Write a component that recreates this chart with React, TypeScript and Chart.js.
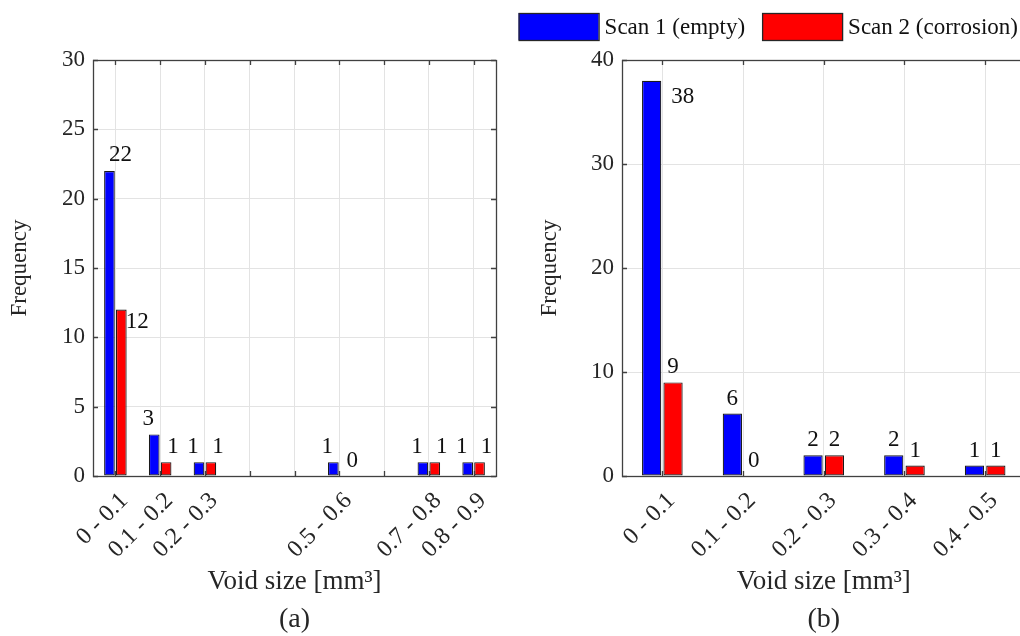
import React, { useEffect, useRef } from 'react';
import { Chart, registerables } from 'chart.js';

Chart.register(...registerables);

const FONT = '"Liberation Serif", "Times New Roman", serif';
const TEXT = '#262626';
const BLUE = '#0000ff';
const RED = '#ff0000';
const GRID = '#e3e3e3';
const AXIS = '#404040';

// ---- Panel (a) ----
const categoriesA = ['0 - 0.1', '0.1 - 0.2', '0.2 - 0.3', '0.3 - 0.4', '0.4 - 0.5', '0.5 - 0.6', '0.6 - 0.7', '0.7 - 0.8', '0.8 - 0.9'];
const tickShownA = [true, true, true, false, false, true, false, true, true];
const scan1A = [22, 3, 1, 0, 0, 1, 0, 1, 1];
const scan2A = [12, 1, 1, 0, 0, 0, 0, 1, 1];
const yTicksA = [0, 5, 10, 15, 20, 25, 30];

// ---- Panel (b) ----
const categoriesB = ['0 - 0.1', '0.1 - 0.2', '0.2 - 0.3', '0.3 - 0.4', '0.4 - 0.5'];
const tickShownB = [true, true, true, true, true];
const scan1B = [38, 6, 2, 2, 1];
const scan2B = [9, 0, 2, 1, 1];
const yTicksB = [0, 10, 20, 30, 40];

const seriesNames = ['Scan 1 (empty)', 'Scan 2 (corrosion)'];
const xTitle = 'Void size [mm³]';
const yTitle = 'Frequency';
const panelA = '(a)';
const panelB = '(b)';

// label nudges (px, relative to bar top centre): default per dataset + special cases "index:dataset"
const nudgeA = { def: [[-6, -15], [7, -15]], special: { '0:0': [11, -16], '0:1': [16, 12] } as Record<string, number[]> };
const nudgeB = { def: [[0, -15], [0, -15]], special: { '0:0': [31, 16] } as Record<string, number[]> };

const framePlugin = {
  id: 'frameTicks',
  afterDatasetsDraw(chart: any) {
    const { ctx, chartArea } = chart;
    const { left, top, right, bottom } = chartArea;
    const xs = chart.scales.x;
    const ys = chart.scales.y;
    ctx.save();
    ctx.strokeStyle = AXIS;
    ctx.lineWidth = 1.3;
    ctx.beginPath();
    xs.ticks.forEach((_t: any, i: number) => {
      const px = Math.round(xs.getPixelForTick(i)) + 0.5;
      ctx.moveTo(px, bottom); ctx.lineTo(px, bottom - 5);
      ctx.moveTo(px, top); ctx.lineTo(px, top + 5);
    });
    ys.ticks.forEach((_t: any, i: number) => {
      const py = Math.round(ys.getPixelForTick(i)) + 0.5;
      ctx.moveTo(left, py); ctx.lineTo(left + 5, py);
      ctx.moveTo(right, py); ctx.lineTo(right - 5, py);
    });
    ctx.stroke();
    ctx.strokeRect(Math.round(left) + 0.5, Math.round(top) + 0.5, Math.round(right - left), Math.round(bottom - top));
    ctx.restore();
  },
};

const barLabelPlugin = {
  id: 'barLabels',
  afterDatasetsDraw(chart: any, _args: any, opts: any) {
    const { ctx } = chart;
    ctx.save();
    ctx.font = `23px ${FONT}`;
    ctx.fillStyle = '#111';
    ctx.textAlign = 'center';
    ctx.textBaseline = 'middle';
    chart.data.datasets.forEach((ds: any, d: number) => {
      const meta = chart.getDatasetMeta(d);
      meta.data.forEach((bar: any, i: number) => {
        if (!opts.shown[i]) return;
        const n = opts.nudge.special[`${i}:${d}`] || opts.nudge.def[d];
        ctx.fillText(String(ds.data[i]), bar.x + n[0], bar.y + n[1]);
      });
    });
    ctx.restore();
  },
};

const boxLegendPlugin = {
  id: 'boxLegend',
  afterDraw(chart: any, _args: any, opts: any) {
    if (!opts || !opts.enabled) return;
    const { ctx } = chart;
    ctx.save();
    ctx.font = `23px ${FONT}`;
    ctx.textBaseline = 'middle';
    ctx.textAlign = 'left';
    const items = chart.data.datasets.map((ds: any) => ({ text: ds.label, color: ds.backgroundColor, w: ctx.measureText(ds.label).width }));
    const total = items.reduce((s: number, it: any) => s + opts.boxW + opts.gap + it.w, 0) + opts.spacing * (items.length - 1);
    let x = opts.right - total;
    items.forEach((it: any) => {
      ctx.fillStyle = it.color;
      ctx.fillRect(x, opts.top, opts.boxW, opts.boxH);
      ctx.strokeStyle = '#262626';
      ctx.lineWidth = 1.3;
      ctx.strokeRect(x + 0.5, opts.top + 0.5, opts.boxW, opts.boxH);
      ctx.fillStyle = '#111';
      ctx.fillText(it.text, x + opts.boxW + opts.gap, opts.top + opts.boxH / 2 + 1);
      x += opts.boxW + opts.gap + it.w + opts.spacing;
    });
    ctx.restore();
  },
};

function makeConfig(p: {
  categories: string[]; tickShown: boolean[]; s1: number[]; s2: number[]; yTicks: number[];
  panel: string; yWidth: number; yTitlePad: number; padRight: number; nudge: any; legend: boolean;
}): any {
  const yMax = p.yTicks[p.yTicks.length - 1];
  const step = p.yTicks[1] - p.yTicks[0];
  return {
    type: 'bar',
    data: {
      labels: p.categories,
      datasets: [
        { label: seriesNames[0], data: p.s1, backgroundColor: BLUE, borderColor: '#1a1a1a', borderWidth: 1.2, borderSkipped: false, categoryPercentage: 0.53, barPercentage: 0.9 },
        { label: seriesNames[1], data: p.s2, backgroundColor: RED, borderColor: '#1a1a1a', borderWidth: 1.2, borderSkipped: false, categoryPercentage: 0.53, barPercentage: 0.9 },
      ],
    },
    options: {
      animation: false,
      responsive: false,
      devicePixelRatio: 1,
      layout: { padding: { left: 0, right: p.padRight, top: 60, bottom: 0 } },
      plugins: {
        legend: { display: false },
        tooltip: { enabled: false },
        title: {
          display: true, text: p.panel, position: 'bottom', fullSize: false,
          color: TEXT, font: { family: FONT, size: 28, weight: 'normal' }, padding: { top: 0, bottom: 0 },
        },
        barLabels: { shown: p.tickShown, nudge: p.nudge },
        boxLegend: { enabled: p.legend, right: 508, top: 13, boxW: 80, boxH: 27, gap: 6, spacing: 17 },
      },
      scales: {
        x: {
          type: 'category',
          offset: true,
          grid: { offset: false, color: GRID, drawTicks: false, lineWidth: 1 },
          border: { display: false },
          ticks: {
            autoSkip: false, minRotation: 45, maxRotation: 45, padding: 11, labelOffset: 9, color: TEXT,
            font: { family: FONT, size: 24 },
            callback: (_v: any, i: number) => (p.tickShown[i] ? p.categories[i] : ''),
          },
          title: { display: true, text: xTitle, color: TEXT, font: { family: FONT, size: 27 }, padding: { top: 0, bottom: 4 } },
          afterFit: (s: any) => { s.height = 636 - 33.6 - 476; },
        },
        y: {
          min: 0, max: yMax,
          grid: { color: GRID, drawTicks: false, lineWidth: 1 },
          border: { display: false },
          ticks: { stepSize: step, padding: 8, color: TEXT, font: { family: FONT, size: 23 } },
          title: { display: true, text: yTitle, color: TEXT, font: { family: FONT, size: 23 }, padding: { top: p.yTitlePad, bottom: 0 } },
          afterFit: (s: any) => { s.width = p.yWidth; },
        },
      },
    },
    plugins: [framePlugin, barLabelPlugin, boxLegendPlugin],
  };
}

function Panel({ left, width, config }: { left: number; width: number; config: any }) {
  const ref = useRef<HTMLCanvasElement>(null);
  useEffect(() => {
    const chart = new Chart(ref.current as HTMLCanvasElement, config);
    return () => chart.destroy();
  }, []);
  return (
    <canvas
      ref={ref}
      width={width}
      height={636}
      style={{ position: 'absolute', left, top: 0, width, height: 636, display: 'block' }}
    />
  );
}

export default function App() {
  const cfgA = makeConfig({
    categories: categoriesA, tickShown: tickShownA, s1: scan1A, s2: scan2A, yTicks: yTicksA,
    panel: panelA, yWidth: 93, yTitlePad: 6, padRight: 14, nudge: nudgeA, legend: false,
  });
  const cfgB = makeConfig({
    categories: categoriesB, tickShown: tickShownB, s1: scan1B, s2: scan2B, yTicks: yTicksB,
    panel: panelB, yWidth: 112, yTitlePad: 26, padRight: 4.5, nudge: nudgeB, legend: true,
  });
  return (
    <div style={{ position: 'absolute', left: 0, top: 0, width: 1020, height: 636, overflow: 'hidden', background: '#fff' }}>
      <Panel left={0} width={510} config={cfgA} />
      <Panel left={510} width={520} config={cfgB} />
    </div>
  );
}
